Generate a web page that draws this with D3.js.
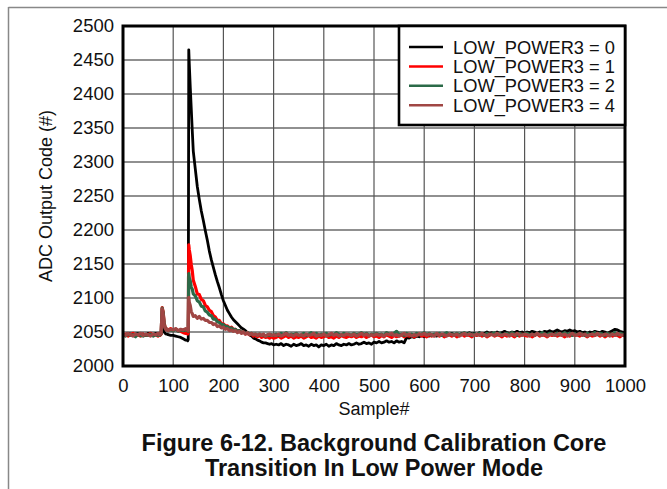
<!DOCTYPE html>
<html><head><meta charset="utf-8">
<script src="https://cdn.jsdelivr.net/npm/d3@7/dist/d3.min.js"></script>
<style>
html,body{margin:0;padding:0;background:#fff;}
svg{display:block;font-family:"Liberation Sans",Arial,Helvetica,sans-serif;}
</style></head>
<body><svg id="c" width="667" height="489"></svg>
<script>
// ---- data ----
const xTicks = [0,100,200,300,400,500,600,700,800,900,1000];
const yTicks = [2000,2050,2100,2150,2200,2250,2300,2350,2400,2450,2500];
const seriesNames = ["LOW_POWER3 = 0","LOW_POWER3 = 1","LOW_POWER3 = 2","LOW_POWER3 = 4"];
const seriesColors = ["#000000","#ff0000","#2b6a48","#a04644"];
// sample index grid (denser near the two transients)
const samples = [].concat(
  d3.range(0, 71, 5),
  d3.range(72, 91, 2),
  d3.range(95, 126, 5),
  [128,129,130,131,132,134,136,138,140],
  d3.range(144, 301, 4),
  d3.range(305, 1001, 5)
);
const lp0 = [
 2047,2046,2048,2047,2045,2047,2048,2046,2047,2045,2048,2047,2046,2048,2047,
 2047,2046,2047,2070,2058,2050,2048,2047,2047,2046,
 2045,2045,2044,2043,2042,2040,2038,
 2038,2037,2039,2465,2445,2410,2378,2346,2316,
 2290,2264,2245,2228,2214,2199,2185,2169,2156,2145,
 2134,2124,2115,2105,2096,2089,2082,2077,2072,2068,
 2065,2062,2059,2056,2054,2052,2049,2046,2044,2041,
 2040,2038,2037,2035,2034,2034,2033,2032,2033,2031,
 2032,2031,2033,2030,2032,2031,2029,2032,2030,2031,
 2033,2030,2031,2029,2032,2030,2031,2028,2031,2030,
 2032,2029,2031,2030,2033,2031,2030,2032,2031,2033,
 2031,2032,2034,2032,2033,2035,2033,2034,2032,2035,
 2034,2036,2034,2035,2037,2035,2036,2034,2037,2035,
 2036,2034,2042,2041,2043,2042,2044,2043,2045,2043,
 2045,2044,2046,2045,2044,2046,2045,2047,2045,2046,
 2048,2046,2047,2045,2048,2046,2047,2049,2047,2048,
 2046,2049,2047,2048,2050,2048,2049,2047,2050,2048,
 2049,2051,2049,2048,2050,2049,2051,2049,2050,2048,
 2050,2049,2051,2050,2048,2050,2049,2051,2050,2052,
 2050,2051,2053,2051,2050,2052,2051,2053,2051,2052,
 2050,2051,2049,2050,2048,2050,2049,2051,2050,2049,
 2051,2050,2048,2050,2052,2054,2053,2051,2050,2049
];
const lp1 = [
 2045,2047,2044,2046,2048,2045,2046,2044,2047,2045,2046,2048,2045,2046,2044,
 2046,2045,2047,2086,2080,2064,2057,2055,2054,2053,
 2055,2053,2054,2052,2051,2049,2048,
 2048,2047,2049,2178,2171,2162,2149,2140,2126,
 2117,2106,2105,2098,2096,2089,2087,2082,2080,2074,
 2072,2067,2067,2062,2062,2059,2059,2056,2057,2054,
 2054,2051,2052,2049,2050,2047,2048,2046,2047,2044,
 2046,2043,2045,2042,2044,2042,2043,2041,2043,2041,
 2042,2044,2041,2043,2045,2042,2044,2041,2043,2042,
 2044,2041,2043,2045,2042,2043,2041,2044,2042,2043,
 2045,2042,2043,2041,2044,2042,2045,2043,2042,2044,
 2043,2045,2042,2044,2043,2045,2042,2044,2046,2043,
 2044,2042,2045,2043,2046,2044,2042,2045,2043,2044,
 2046,2043,2045,2044,2046,2043,2045,2047,2044,2045,
 2043,2046,2044,2045,2047,2044,2046,2043,2045,2046,
 2044,2046,2043,2045,2047,2044,2046,2045,2043,2046,
 2045,2047,2044,2046,2043,2045,2047,2044,2046,2045,
 2043,2046,2044,2047,2045,2043,2046,2044,2047,2045,
 2044,2046,2043,2045,2047,2044,2046,2045,2043,2046,
 2045,2047,2044,2046,2045,2043,2046,2044,2047,2045,
 2046,2044,2047,2045,2043,2046,2044,2045,2047,2044,
 2046,2043,2045,2047,2044,2046,2045,2043,2046,2044
];
const lp2 = [
 2046,2044,2047,2045,2046,2043,2047,2045,2044,2046,2045,2047,2044,2046,2045,
 2045,2046,2048,2085,2078,2062,2056,2054,2053,2052,
 2053,2052,2054,2051,2053,2052,2053,
 2052,2053,2051,2136,2130,2125,2116,2113,2106,
 2103,2096,2094,2088,2087,2081,2079,2075,2074,2069,
 2069,2065,2064,2061,2061,2058,2058,2055,2056,2053,
 2054,2051,2052,2049,2050,2048,2049,2047,2048,2046,
 2047,2045,2047,2045,2046,2044,2046,2045,2046,2045,
 2047,2045,2048,2046,2049,2045,2047,2046,2048,2045,
 2046,2048,2045,2047,2049,2046,2048,2045,2047,2046,
 2048,2045,2047,2046,2049,2047,2045,2048,2046,2047,
 2045,2048,2046,2047,2049,2046,2048,2045,2047,2046,
 2048,2046,2047,2045,2049,2047,2046,2048,2051,2046,
 2047,2045,2048,2046,2047,2045,2048,2046,2047,2049,
 2046,2048,2045,2047,2046,2048,2045,2047,2049,2046,
 2047,2045,2048,2046,2047,2049,2046,2048,2045,2047,
 2046,2048,2047,2045,2048,2046,2047,2049,2046,2048,
 2045,2047,2048,2046,2049,2047,2045,2048,2046,2047,
 2048,2046,2047,2045,2048,2046,2049,2047,2046,2048,
 2047,2045,2048,2046,2047,2049,2046,2048,2045,2047,
 2046,2048,2047,2045,2048,2046,2047,2049,2046,2048,
 2047,2045,2048,2046,2047,2049,2046,2048,2047,2046
];
const lp4 = [
 2047,2045,2048,2046,2044,2047,2046,2048,2045,2047,2046,2044,2047,2046,2048,
 2046,2047,2048,2084,2076,2060,2055,2053,2054,2052,
 2054,2053,2055,2052,2054,2053,2055,
 2053,2054,2052,2101,2094,2089,2080,2077,2073,
 2074,2070,2073,2069,2070,2067,2067,2064,2064,2061,
 2062,2058,2059,2056,2057,2054,2055,2052,2053,2051,
 2052,2049,2051,2048,2050,2047,2049,2046,2048,2046,
 2047,2045,2047,2045,2047,2044,2046,2047,2045,2046,
 2045,2047,2044,2046,2048,2045,2046,2044,2047,2045,
 2046,2044,2047,2045,2046,2048,2044,2046,2045,2047,
 2044,2046,2048,2045,2047,2044,2046,2045,2047,2046,
 2045,2047,2044,2046,2048,2045,2047,2044,2046,2045,
 2047,2045,2046,2044,2047,2046,2048,2045,2046,2044,
 2046,2048,2045,2047,2044,2046,2045,2047,2046,2048,
 2045,2047,2046,2044,2048,2045,2047,2046,2044,2047,
 2046,2045,2047,2044,2046,2048,2045,2047,2046,2045,
 2047,2045,2048,2046,2044,2047,2046,2045,2048,2046,
 2045,2047,2046,2044,2047,2045,2048,2046,2045,2047,
 2046,2044,2047,2045,2048,2046,2045,2047,2044,2046,
 2047,2045,2046,2048,2045,2047,2044,2046,2048,2045,
 2046,2048,2045,2047,2044,2046,2047,2045,2048,2046,
 2045,2047,2046,2044,2047,2045,2048,2046,2045,2047
];
const seriesValues = [lp0, lp1, lp2, lp4];
const seriesWidths = [2.8, 3.2, 3.2, 3.2];

// ---- layout ----
const svg = d3.select("#c");
const L = 123, R = 625, T = 26, B = 366;
const x = d3.scaleLinear().domain([0,1000]).range([L,R]);
const y = d3.scaleLinear().domain([2000,2500]).range([B,T]);

// outer frame
svg.append("line").attr("x1",8.5).attr("x2",667).attr("y1",7.5).attr("y2",7.5).attr("stroke","#888").attr("stroke-width",1.5);
svg.append("line").attr("x1",8.5).attr("x2",8.5).attr("y1",7).attr("y2",489).attr("stroke","#888").attr("stroke-width",1.5);

// grid
svg.append("g").selectAll("line").data(yTicks.slice(1,-1)).join("line")
  .attr("x1",L).attr("x2",R).attr("y1",d=>y(d)).attr("y2",d=>y(d))
  .attr("stroke","#222").attr("stroke-width",1.2);
svg.append("g").selectAll("line").data(xTicks.slice(1,-1)).join("line")
  .attr("x1",d=>x(d)).attr("x2",d=>x(d)).attr("y1",T).attr("y2",B)
  .attr("stroke","#555").attr("stroke-width",1.2);

// axes (labels only)
const ya = svg.append("g").attr("transform",`translate(${L},0)`)
  .call(d3.axisLeft(y).tickValues(yTicks).tickSize(0).tickPadding(9).tickFormat(d3.format("d")));
const xa = svg.append("g").attr("transform",`translate(0,${B})`)
  .call(d3.axisBottom(x).tickValues(xTicks).tickSize(0).tickPadding(13).tickFormat(d3.format("d")));
[ya,xa].forEach(a=>{a.select(".domain").remove();a.selectAll("text").attr("font-size",18.5).attr("fill","#111").attr("font-family","Liberation Sans, Arial, sans-serif");});

// clip
svg.append("clipPath").attr("id","clip").append("rect").attr("x",L).attr("y",T).attr("width",R-L).attr("height",B-T);

// lines
const line = d3.line().x((d,i)=>x(samples[i])).y(d=>y(d));
const lg = svg.append("g").attr("clip-path","url(#clip)");
seriesValues.forEach((vals,k)=>{
  lg.append("path").datum(vals).attr("d",line).attr("fill","none")
    .attr("stroke",seriesColors[k]).attr("stroke-width",seriesWidths[k]).attr("stroke-linejoin","round");
});

// plot border
svg.append("rect").attr("x",L).attr("y",T).attr("width",R-L).attr("height",B-T)
  .attr("fill","none").attr("stroke","#000").attr("stroke-width",3);

// legend
const lgX = 399, lgY = T, lgW = R-399, lgH = 99;
svg.append("rect").attr("x",lgX).attr("y",lgY).attr("width",lgW).attr("height",lgH)
  .attr("fill","#fff").attr("stroke","#000").attr("stroke-width",2.6);
seriesNames.forEach((n,k)=>{
  const cy = 47 + k*19.4;
  svg.append("line").attr("x1",409).attr("x2",443).attr("y1",cy).attr("y2",cy)
    .attr("stroke",seriesColors[k]).attr("stroke-width",2.5);
  svg.append("text").attr("x",453).attr("y",cy+6.5).attr("font-size",18.3).attr("fill","#111").text(n);
});

// axis titles
svg.append("text").attr("x",(L+R)/2).attr("y",415).attr("text-anchor","middle").attr("font-size",18).attr("fill","#111").text("Sample#");
svg.append("text").attr("transform",`translate(52,${(T+B)/2}) rotate(-90)`).attr("text-anchor","middle").attr("font-size",18).attr("fill","#111").text("ADC Output Code (#)");

// caption
svg.append("text").attr("x",(L+R)/2).attr("y",451).attr("text-anchor","middle").attr("font-size",23.5).attr("font-weight","bold").attr("fill","#111").text("Figure 6-12. Background Calibration Core");
svg.append("text").attr("x",(L+R)/2).attr("y",476).attr("text-anchor","middle").attr("font-size",23.5).attr("font-weight","bold").attr("fill","#111").text("Transition In Low Power Mode");
</script></body></html>
